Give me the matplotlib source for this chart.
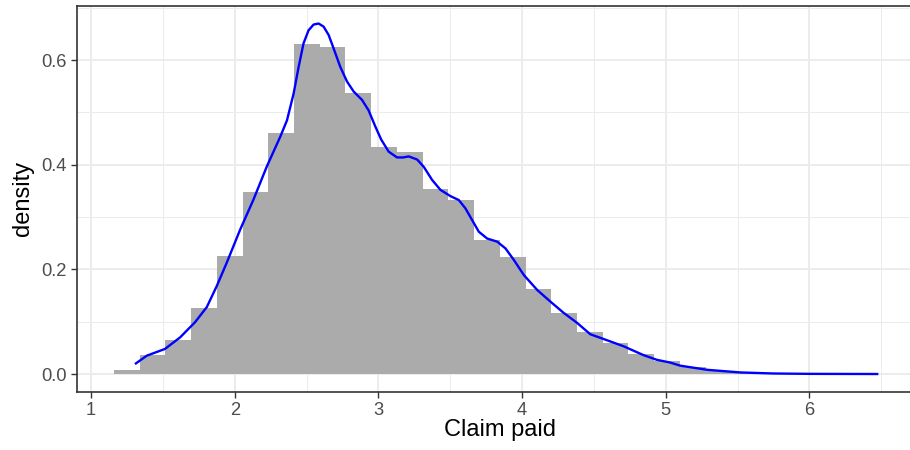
import matplotlib
matplotlib.use("Agg")
import matplotlib.pyplot as plt
import numpy as np

# histogram of claim paid (30 bins, density scale)
bin_lo, bin_hi, n_bins = 1.16, 6.53, 30
hist_density = [0.008, 0.036, 0.065, 0.126, 0.226, 0.348, 0.460, 0.631, 0.626, 0.537,
                0.434, 0.425, 0.354, 0.333, 0.257, 0.223, 0.162, 0.116, 0.080, 0.059,
                0.038, 0.025, 0.013, 0.006, 0.003, 0.002, 0.001, 0.0005, 0.0005, 0.0005]

# kernel density estimate
kde_x = [1.306, 1.388, 1.515, 1.62, 1.724, 1.806, 1.875, 1.945, 2.038, 2.13,
         2.224, 2.317, 2.364, 2.41, 2.445, 2.479, 2.514, 2.549, 2.584, 2.619,
         2.654, 2.689, 2.735, 2.782, 2.828, 2.886, 2.932, 2.979, 3.02, 3.072,
         3.13, 3.172, 3.211, 3.27, 3.316, 3.374, 3.432, 3.502, 3.56, 3.606,
         3.653, 3.699, 3.757, 3.827, 3.885, 3.943, 4.013, 4.106, 4.199, 4.289,
         4.382, 4.475, 4.567, 4.707, 4.846, 4.94, 5.03, 5.10, 5.29, 5.52,
         5.75, 6.0, 6.48]
kde_y = [0.019, 0.035, 0.048, 0.070, 0.099, 0.128, 0.168, 0.213, 0.276, 0.333,
         0.397, 0.4535, 0.485, 0.536, 0.587, 0.632, 0.657, 0.668, 0.670, 0.664,
         0.648, 0.622, 0.587, 0.559, 0.540, 0.524, 0.504, 0.473, 0.448, 0.425,
         0.414, 0.414, 0.416, 0.410, 0.396, 0.371, 0.352, 0.340, 0.3325, 0.3166,
         0.294, 0.272, 0.259, 0.253, 0.240, 0.218, 0.189, 0.1605, 0.138, 0.117,
         0.098, 0.076, 0.067, 0.053, 0.036, 0.027, 0.022, 0.016, 0.008, 0.003,
         0.001, 0.0003, 0.0]

x_ticks = [1, 2, 3, 4, 5, 6]
y_ticks = [0.0, 0.2, 0.4, 0.6]

plt.rcParams['font.family'] = ['Liberation Sans', 'DejaVu Sans']

fig = plt.figure(figsize=(9.1, 4.5), dpi=100)
ax = fig.add_axes([77 / 910, 1 - 391.7 / 450, 1 - 77 / 910, (391.7 - 6) / 450])

edges = np.linspace(bin_lo, bin_hi, n_bins + 1)
ax.bar(edges[:-1], hist_density, width=np.diff(edges), align='edge',
       color='#ababab', edgecolor='none', zorder=2)
ax.plot(kde_x, kde_y, color='#0000ff', lw=1.7, zorder=3,
        solid_joinstyle='round', solid_capstyle='butt')

ax.set_xlim(0.9025, 6.70)
ax.set_ylim(-0.0338, 0.7035)
ax.set_xticks(x_ticks)
ax.set_yticks(y_ticks)
ax.set_xticks(np.arange(1.5, 7, 1.0), minor=True)
ax.set_yticks([0.1, 0.3, 0.5, 0.7], minor=True)
ax.set_xticklabels([str(t) for t in x_ticks])
ax.set_yticklabels(["%.1f" % t for t in y_ticks])

ax.grid(True, which='major', color='#ebebeb', lw=1.3, zorder=0)
ax.grid(True, which='minor', color='#ebebeb', lw=0.7, zorder=0)
ax.set_axisbelow(True)

for side in ['left', 'top', 'bottom']:
    ax.spines[side].set_color('#333333')
    ax.spines[side].set_linewidth(1.2)
ax.spines['right'].set_visible(False)

ax.tick_params(which='major', length=4.5, width=1.0, color='#333333',
               labelcolor='#4d4d4d', labelsize=13.2, pad=3)
ax.tick_params(which='minor', length=0)

ax.set_xlabel('Claim paid', fontsize=17, color='black', labelpad=4)
ax.set_ylabel('density', fontsize=17, color='black', labelpad=5)
ax.xaxis.set_label_coords((500 - 77) / (910 - 77), -0.072)

fig.savefig('out.png', dpi=100)
